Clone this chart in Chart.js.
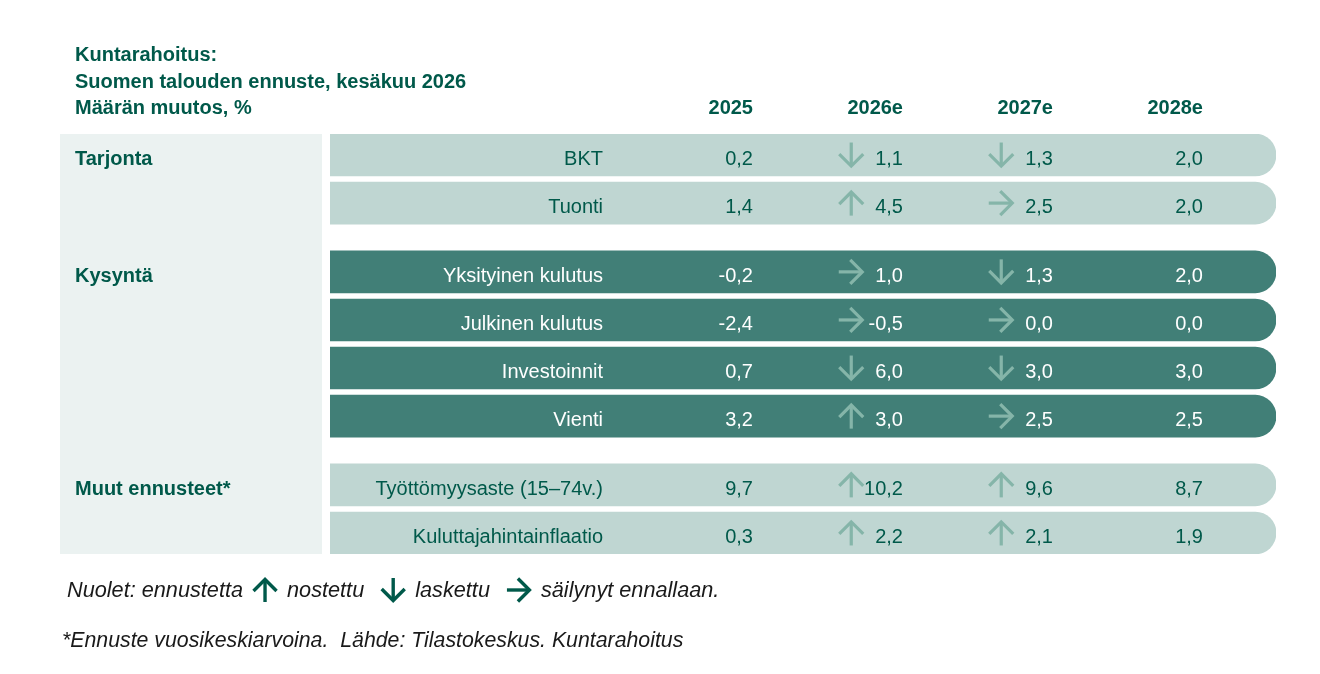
<!DOCTYPE html>
<html>
<head>
<meta charset="utf-8">
<script src="https://cdn.jsdelivr.net/npm/chart.js@4.4.1/dist/chart.umd.min.js"></script>
<style>
html,body{margin:0;padding:0;background:#fff;}
#wrap{width:1320px;height:674px;position:relative;}
</style>
</head>
<body>
<div id="wrap"><canvas id="c"></canvas></div>
<script>
// ---- data ----
const titleLines = ['Kuntarahoitus:', 'Suomen talouden ennuste, kesäkuu 2026', 'Määrän muutos, %'];
const years = ['2025', '2026e', '2027e', '2028e'];
const groups = ['Tarjonta', 'Kysyntä', 'Muut ennusteet*'];
const categories = ['BKT', 'Tuonti', 'Yksityinen kulutus', 'Julkinen kulutus', 'Investoinnit', 'Vienti', 'Työttömyysaste (15–74v.)', 'Kuluttajahintainflaatio'];
const rowGroup = [0, 0, 1, 1, 1, 1, 2, 2];
const v2025 = [0.2, 1.4, -0.2, -2.4, 0.7, 3.2, 9.7, 0.3];
const v2026 = [1.1, 4.5, 1.0, -0.5, 6.0, 3.0, 10.2, 2.2];
const v2027 = [1.3, 2.5, 1.3, 0.0, 3.0, 2.5, 9.6, 2.1];
const v2028 = [2.0, 2.0, 2.0, 0.0, 3.0, 2.5, 8.7, 1.9];
const dir2026 = ['down', 'up', 'right', 'right', 'down', 'up', 'up', 'up'];
const dir2027 = ['down', 'right', 'down', 'right', 'down', 'right', 'up', 'up'];
const footerParts = ['Nuolet: ennustetta', 'up', 'nostettu', 'down', 'laskettu', 'right', 'säilynyt ennallaan.'];
const footerNote = '*Ennuste vuosikeskiarvoina.  Lähde: Tilastokeskus. Kuntarahoitus';

// ---- styles ----
const DARK = '#00594a';
const LIGHT_ROW = '#bfd6d2';
const DARK_ROW = '#417f77';
const PANEL = '#ebf2f1';
const ARROW = '#85b5a9';
const FONT = '"Liberation Sans", Arial, sans-serif';
const GROUP_GAP = 0.43;

const series = [v2025, v2026, v2027, v2028];
const arrows = [null, dir2026, dir2027, null];
const rowPos = categories.map((c, i) => i + rowGroup[i] * GROUP_GAP);
const fmt = v => v.toFixed(1).replace('.', ',');

function drawArrow(ctx, dir, cx, cy, L, color, lw) {
  const h = L / 2, head = L * 0.48;
  ctx.save();
  ctx.translate(cx, cy);
  ctx.rotate({ up: -Math.PI / 2, down: Math.PI / 2, right: 0 }[dir]);
  ctx.strokeStyle = color;
  ctx.lineWidth = lw;
  ctx.lineCap = 'butt';
  ctx.lineJoin = 'miter';
  ctx.beginPath();
  ctx.moveTo(-h, 0);
  ctx.lineTo(h - lw * 0.8, 0);
  ctx.stroke();
  ctx.beginPath();
  ctx.moveTo(h - 1.5 - head, -head);
  ctx.lineTo(h - 1.5, 0);
  ctx.lineTo(h - 1.5 - head, head);
  ctx.stroke();
  ctx.restore();
}

const tablePlugin = {
  id: 'tableText',
  beforeDatasetsDraw(chart) {
    const { ctx, chartArea: a } = chart;
    ctx.save();
    ctx.fillStyle = PANEL;
    ctx.fillRect(a.left - 270, a.top, 262, a.bottom - a.top);
    ctx.restore();
  },
  afterDatasetsDraw(chart) {
    const ctx = chart.ctx, ys = chart.scales.y, cs = chart.scales.col;
    ctx.save();
    ctx.textBaseline = 'alphabetic';
    // title
    ctx.fillStyle = DARK;
    ctx.font = 'bold 20px ' + FONT;
    ctx.textAlign = 'left';
    titleLines.forEach((t, i) => ctx.fillText(t, 75, 61 + i * 26.5));
    // headers
    ctx.textAlign = 'right';
    years.forEach((y, j) => ctx.fillText(y, cs.getPixelForValue(j + 1), 114));
    // group labels
    ctx.textAlign = 'left';
    groups.forEach((g, k) => {
      const i = rowGroup.indexOf(k);
      ctx.fillText(g, 75, ys.getPixelForValue(rowPos[i]) + 10);
    });
    // rows
    ctx.font = '20px ' + FONT;
    categories.forEach((c, i) => {
      const cy = ys.getPixelForValue(rowPos[i]);
      ctx.fillStyle = rowGroup[i] === 1 ? '#ffffff' : DARK;
      ctx.textAlign = 'right';
      ctx.fillText(c, cs.getPixelForValue(0), cy + 10);
      series.forEach((s, j) => {
        ctx.fillText(fmt(s[i]), cs.getPixelForValue(j + 1), cy + 10);
        if (arrows[j]) drawArrow(ctx, arrows[j][i], cs.getPixelForValue(j + 1 - 0.345), cy, 25, ARROW, 3.2);
      });
    });
    // footer
    ctx.fillStyle = '#1a1a1a';
    ctx.font = 'italic 21.7px ' + FONT;
    ctx.textAlign = 'left';
    let x = 67;
    const fy = 597;
    footerParts.forEach((p, k) => {
      if (p === 'up' || p === 'down' || p === 'right') {
        x += 10;
        drawArrow(ctx, p, x + 12, 590, 24, DARK, 3.4);
        x += 24 + 10;
      } else {
        ctx.fillText(p, x, fy);
        x += ctx.measureText(p).width + (k > 0 ? 7 : 0);
      }
    });
    ctx.font = 'italic 21.3px ' + FONT;
    ctx.fillText(footerNote, 62, 647);
    ctx.restore();
  }
};

new Chart(document.getElementById('c'), {
  type: 'bar',
  data: {
    datasets: [{
      data: categories.map((c, i) => ({ x: 1, y: rowPos[i] })),
      backgroundColor: rowGroup.map(g => g === 1 ? DARK_ROW : LIGHT_ROW),
      borderWidth: 0,
      borderRadius: { topLeft: 0, bottomLeft: 0, topRight: 21, bottomRight: 21 },
      borderSkipped: false,
      barThickness: 42,
      xAxisID: 'x',
      yAxisID: 'y'
    }]
  },
  options: {
    indexAxis: 'y',
    responsive: true,
    maintainAspectRatio: false,
    animation: false,
    events: [],
    layout: { padding: { left: 330, right: 44, top: 134, bottom: 120 } },
    scales: {
      x: { type: 'linear', min: 0, max: 1, display: false },
      col: { type: 'linear', axis: 'x', min: -1.82, max: 4.4867, display: false },
      y: { type: 'linear', offset: false, grid: { offset: false }, min: -0.4375, max: 7 + 2 * GROUP_GAP + 0.4375, reverse: true, display: false }
    },
    plugins: { legend: { display: false }, tooltip: { enabled: false }, title: { display: false } }
  },
  plugins: [tablePlugin]
});
</script>
</body>
</html>
